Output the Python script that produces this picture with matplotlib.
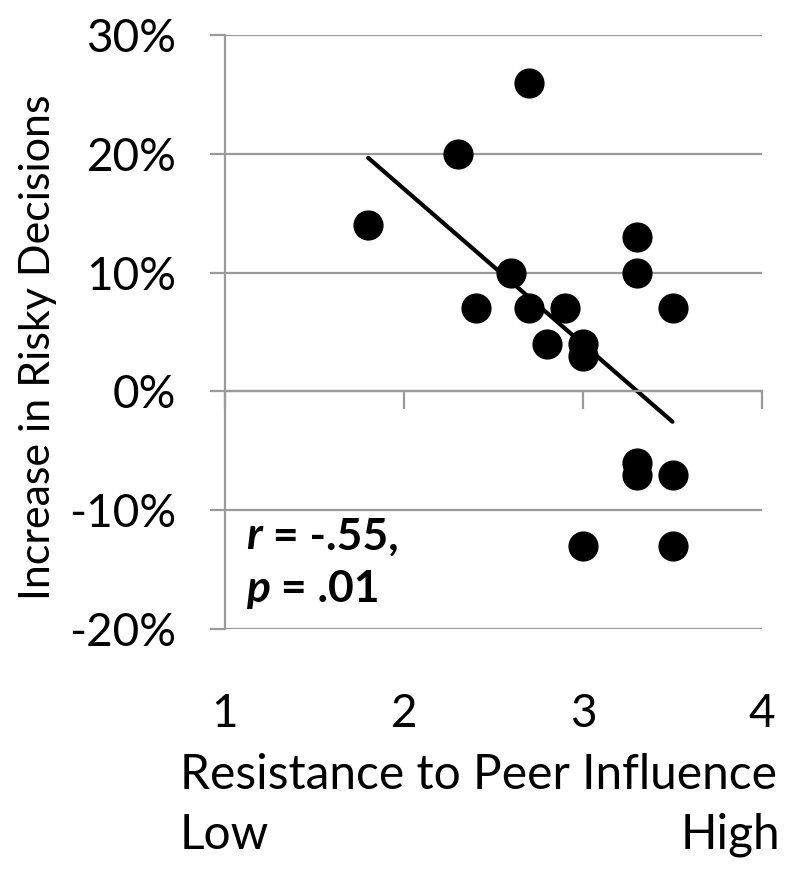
import numpy as np
import matplotlib
matplotlib.use("Agg")
import matplotlib.pyplot as plt
from matplotlib.ticker import FuncFormatter

# Data
resistance = [1.8, 2.3, 2.7, 2.4, 2.6, 2.7, 2.9, 2.8, 3.0, 3.0,
              3.3, 3.3, 3.5, 3.3, 3.3, 3.5, 3.0, 3.5]
risky_increase = [0.14, 0.20, 0.26, 0.07, 0.10, 0.07, 0.07, 0.04, 0.04, 0.03,
                  0.13, 0.10, 0.07, -0.06, -0.07, -0.07, -0.13, -0.13]
x_ticks = [1, 2, 3, 4]
y_ticks = [-0.2, -0.1, 0.0, 0.1, 0.2, 0.3]

plt.rcParams['font.family'] = ['Lato', 'DejaVu Sans']
GRAY = '#9a9a9a'

fig = plt.figure(figsize=(8, 8.76), dpi=100)
ax = fig.add_axes([225/800, 1-629/876, (762-225)/800, (629-35)/876])
ax.set_xlim(1, 4)
ax.set_ylim(-0.2, 0.3)

# gridlines
ax.set_yticks(y_ticks)
ax.yaxis.grid(True, color=GRAY, linewidth=1.6)
ax.set_axisbelow(True)
ax.yaxis.set_major_formatter(FuncFormatter(lambda v, p: f"{v*100:.0f}%"))
ax.tick_params(axis='y', direction='out', length=11, width=1.6, color=GRAY,
               labelsize=33, pad=24)

for s in ['top', 'right']:
    ax.spines[s].set_visible(False)
ax.spines['left'].set_color(GRAY)
ax.spines['left'].set_linewidth(1.6)
ax.spines['bottom'].set_position(('data', 0))
ax.spines['bottom'].set_color(GRAY)
ax.spines['bottom'].set_linewidth(1.6)
ax.set_xticks(x_ticks)
ax.tick_params(axis='x', direction='out', length=13, width=1.6, color=GRAY,
               labelbottom=False)

sec = ax.secondary_xaxis(0)
sec.set_xticks(x_ticks)
sec.set_xticklabels([str(t) for t in x_ticks])
sec.spines['bottom'].set_visible(False)
sec.tick_params(axis='x', length=0, labelsize=33, pad=46)

# points
ax.scatter(resistance, risky_increase, s=430, color='black', zorder=3,
           clip_on=False)

# regression line
xs = np.array(resistance)
ys = np.array(risky_increase)
slope, intercept = np.polyfit(xs, ys, 1)
xl = np.array([xs.min(), xs.max()])
ax.plot(xl, slope*xl + intercept, color='black', linewidth=3, zorder=2,
        solid_capstyle='round')

# annotation
t1 = ax.text(1.12, -0.122, "r", fontsize=32, fontweight='bold',
             fontstyle='italic', va='center', ha='left')
ax.annotate(" = -.55,", xy=(1, 0), xycoords=t1, va='bottom', ha='left',
            fontsize=32, fontweight='bold')
t2 = ax.text(1.12, -0.166, "p", fontsize=32, fontweight='bold',
             fontstyle='italic', va='center', ha='left')
ax.annotate(" = .01", xy=(1, 0), xycoords=t2, va='bottom', ha='left',
            fontsize=32, fontweight='bold')

# labels
fig.text(38/800, 1-347/876, "Increase in Risky Decisions", rotation=90,
         fontsize=31, ha='center', va='center')
fig.text(180/800, 1-775/876, "Resistance to Peer Influence", fontsize=34.5,
         ha='left', va='center')
fig.text(180/800, 1-835/876, "Low", fontsize=34.5, ha='left', va='center')
fig.text(780/800, 1-835/876, "High", fontsize=34.5, ha='right', va='center')

fig.savefig("out.png", dpi=100, facecolor='white')
